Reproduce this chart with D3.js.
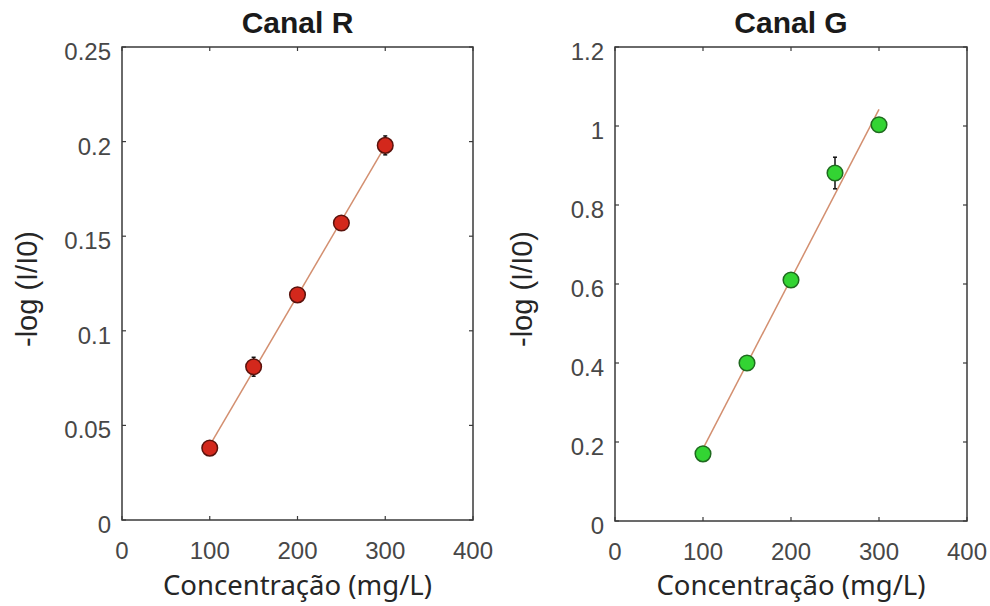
<!DOCTYPE html>
<html><head><meta charset="utf-8">
<script src="https://cdn.jsdelivr.net/npm/d3@7"></script>
<style>body{margin:0;background:#fff}</style>
</head><body>
<svg id="c" width="990" height="606"></svg>
<script>
// ---- data ----
const concentrations = [100, 150, 200, 250, 300];
const valuesR = [0.038, 0.081, 0.119, 0.157, 0.198];
const errorsR = [0.003, 0.005, 0.003, 0.003, 0.005];
const valuesG = [0.170, 0.400, 0.610, 0.881, 1.003];
const errorsG = [0.008, 0.008, 0.008, 0.040, 0.008];
const xTicks = [0, 100, 200, 300, 400];
const yTicksR = [0, 0.05, 0.1, 0.15, 0.2, 0.25];
const yTicksG = [0, 0.2, 0.4, 0.6, 0.8, 1, 1.2];
const titles = ["Canal R", "Canal G"];
const xLabel = "Concentração (mg/L)";
const yLabel = "-log (I/I0)";

const svg = d3.select("#c");

function fit(xs, ys){
  const n = xs.length, mx = d3.mean(xs), my = d3.mean(ys);
  let sxy = 0, sxx = 0;
  for (let i=0;i<n;i++){ sxy += (xs[i]-mx)*(ys[i]-my); sxx += (xs[i]-mx)**2; }
  const b = sxy/sxx; return {b, a: my - b*mx};
}

function panel(opt){
  const {x0, x1, y0, y1, ymax, yTicks, vals, errs, fill, stroke, title, ylabX} = opt;
  const x = d3.scaleLinear().domain([0,400]).range([x0,x1]);
  const y = d3.scaleLinear().domain([0,ymax]).range([y1,y0]);
  const g = svg.append("g");
  const axCol = "#3a3a3a", txtCol = "#474747";
  const tl = 4;
  g.append("rect").attr("x",x0).attr("y",y0).attr("width",x1-x0).attr("height",y1-y0)
    .attr("fill","none").attr("stroke",axCol).attr("stroke-width",1.5);
  xTicks.forEach(t=>{
    const px = x(t);
    g.append("line").attr("x1",px).attr("x2",px).attr("y1",y1).attr("y2",y1-tl).attr("stroke",axCol).attr("stroke-width",1.2);
    g.append("line").attr("x1",px).attr("x2",px).attr("y1",y0).attr("y2",y0+tl).attr("stroke",axCol).attr("stroke-width",1.2);
    g.append("text").attr("x",px).attr("y",y1+39).attr("text-anchor","middle")
      .attr("font-family","Liberation Sans, Arial").attr("font-size",24).attr("fill",txtCol).text(t);
  });
  yTicks.forEach(t=>{
    const py = y(t);
    g.append("line").attr("x1",x0).attr("x2",x0+tl).attr("y1",py).attr("y2",py).attr("stroke",axCol).attr("stroke-width",1.2);
    g.append("line").attr("x1",x1).attr("x2",x1-tl).attr("y1",py).attr("y2",py).attr("stroke",axCol).attr("stroke-width",1.2);
    g.append("text").attr("x",x0-11).attr("y",py+13).attr("text-anchor","end")
      .attr("font-family","Liberation Sans, Arial").attr("font-size",24).attr("fill",txtCol).text(d3.format("~g")(t));
  });
  const f = fit(concentrations, vals);
  const xa = d3.min(concentrations), xb = d3.max(concentrations);
  g.append("line").attr("x1",x(xa)).attr("y1",y(f.a+f.b*xa)).attr("x2",x(xb)).attr("y2",y(f.a+f.b*xb))
    .attr("stroke","#d38f70").attr("stroke-width",1.5);
  concentrations.forEach((c,i)=>{
    const px = x(c);
    g.append("line").attr("x1",px).attr("x2",px).attr("y1",y(vals[i]-errs[i])).attr("y2",y(vals[i]+errs[i]))
      .attr("stroke","#111").attr("stroke-width",1.5);
    [vals[i]-errs[i], vals[i]+errs[i]].forEach(v=>{
      g.append("line").attr("x1",px-2).attr("x2",px+2).attr("y1",y(v)).attr("y2",y(v)).attr("stroke","#111").attr("stroke-width",1.5);
    });
  });
  g.selectAll("circle.m").data(concentrations).join("circle").attr("class","m")
    .attr("cx",d=>x(d)).attr("cy",(d,i)=>y(vals[i])).attr("r",7.8)
    .attr("fill",fill).attr("stroke",stroke).attr("stroke-width",1.5);
  g.append("text").attr("x",(x0+x1)/2).attr("y",33).attr("text-anchor","middle")
    .attr("font-family","Liberation Sans, Arial").attr("font-weight","bold").attr("font-size",30).attr("fill","#1a1a1a").text(title);
  g.append("text").attr("x",(x0+x1)/2).attr("y",595).attr("text-anchor","middle")
    .attr("font-family","Noto Sans, Open Sans").attr("font-size",27.5).attr("fill","#262626").text(xLabel);
  g.append("text").attr("transform",`translate(${ylabX},289) rotate(-90)`).attr("text-anchor","middle")
    .attr("font-family","Liberation Sans, Arial").attr("font-size",29).attr("fill","#262626").text(yLabel);
}

panel({x0:122, x1:473, y0:47, y1:520, ymax:0.25, yTicks:yTicksR, vals:valuesR, errs:errorsR,
  fill:"#d3281c", stroke:"#5a120c", title:titles[0], ylabX:37});
panel({x0:615, x1:967, y0:47, y1:521, ymax:1.2, yTicks:yTicksG, vals:valuesG, errs:errorsG,
  fill:"#33d433", stroke:"#1f6a1f", title:titles[1], ylabX:532});
</script>
</body></html>
